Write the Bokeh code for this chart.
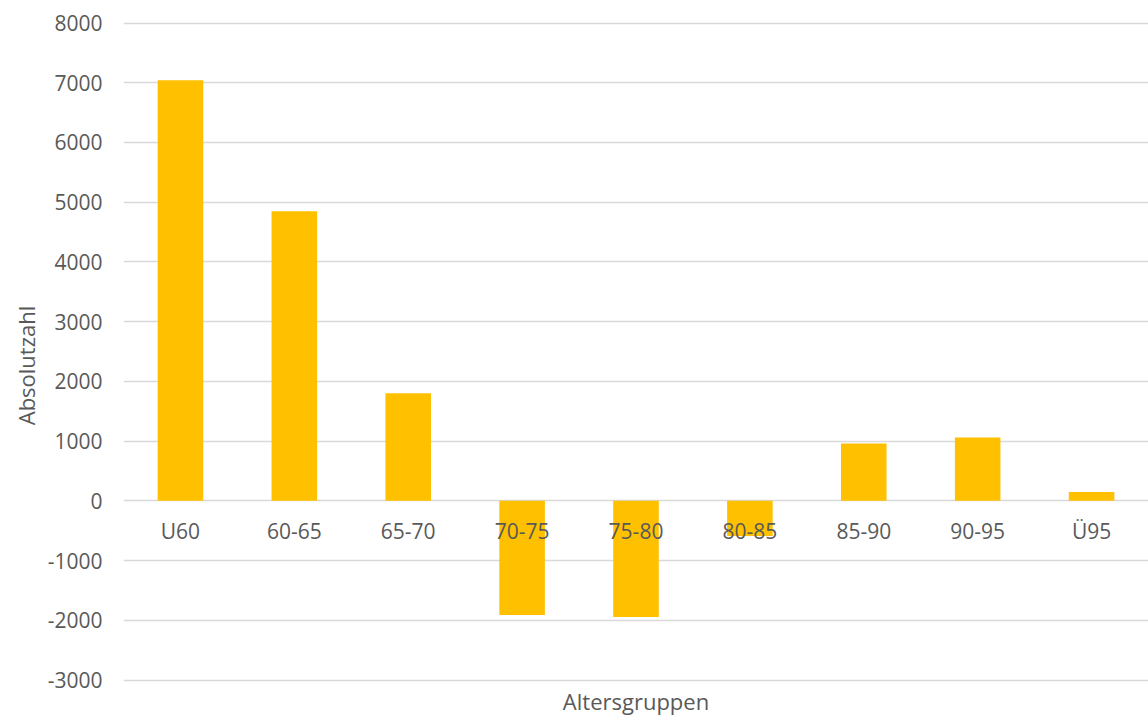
from bokeh.plotting import figure
from bokeh.models import Range1d, FactorRange, ColumnDataSource, PrintfTickFormatter
from bokeh.core.properties import value
from bokeh.embed import file_html
from bokeh.resources import INLINE

# Altersgruppen and their change in absolute numbers
categories = ["U60", "60-65", "65-70", "70-75", "75-80", "80-85", "85-90", "90-95", "Ü95"]
values = [7040, 4850, 1800, -1910, -1945, -590, 960, 1060, 150]

y_ticks = [-3000, -2000, -1000, 0, 1000, 2000, 3000, 4000, 5000, 6000, 7000, 8000]

FONT = "Open Sans"
TEXT_COLOR = "#595959"
BAR_COLOR = "#FFC000"
GRID_COLOR = "#D9D9D9"

source = ColumnDataSource(data=dict(cat=categories, val=values))

p = figure(
    width=1148, height=718,
    x_range=FactorRange(factors=categories),
    y_range=Range1d(-3644, 8176),
    output_backend="svg", toolbar_location=None,
    min_border_left=123, min_border_right=0,
    min_border_top=12, min_border_bottom=0,
    x_axis_location=None,
)
p.outline_line_color = None
p.background_fill_color = "white"
p.border_fill_color = "white"

p.vbar(x="cat", top="val", bottom=0, width=0.4, source=source,
       fill_color=BAR_COLOR, line_color=None)

# category labels sit next to the zero line
p.text(x="cat", y=0, text="cat", source=source, y_offset=30,
       text_align="center", text_baseline="middle",
       text_font=value(FONT), text_font_size="21px", text_color=TEXT_COLOR)

# horizontal axis title
p.text(x=[len(categories) / 2], y=[-3000], text=["Altersgruppen"], y_offset=21,
       text_align="center", text_baseline="middle",
       text_font=value(FONT), text_font_size="22px", text_color=TEXT_COLOR)

yaxis = p.yaxis[0]
yaxis.ticker = y_ticks
yaxis.formatter = PrintfTickFormatter(format="%d")
yaxis.axis_line_color = None
yaxis.major_tick_line_color = None
yaxis.minor_tick_line_color = None
yaxis.major_tick_in = 0
yaxis.major_tick_out = 0
yaxis.major_label_standoff = 21
yaxis.major_label_text_font = FONT
yaxis.major_label_text_font_size = "21px"
yaxis.major_label_text_color = TEXT_COLOR
yaxis.axis_label = "Absolutzahl"
yaxis.axis_label_text_font = FONT
yaxis.axis_label_text_font_size = "22px"
yaxis.axis_label_text_font_style = "normal"
yaxis.axis_label_text_color = TEXT_COLOR
yaxis.axis_label_standoff = 4

p.ygrid.ticker = y_ticks
p.ygrid.grid_line_color = GRID_COLOR
p.ygrid.grid_line_width = 1.3
p.xgrid.grid_line_color = None

open("out.html", "w").write(file_html(p, INLINE))
